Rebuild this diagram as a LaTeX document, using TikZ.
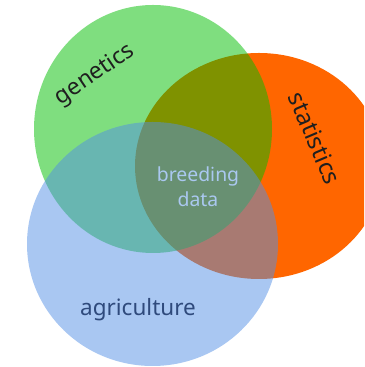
\documentclass[tikz,border=0pt]{standalone}
\usepackage{fontspec}
\setmainfont{Noto Sans}
\usetikzlibrary{positioning}
\definecolor{vorange}{HTML}{FF6600}
\definecolor{vgreen}{RGB}{0,190,0}
\definecolor{vblue}{RGB}{83,143,229}
\definecolor{agrtext}{HTML}{2F4A7C}
\definecolor{coretext}{HTML}{AAC8F0}

\begin{document}
\begin{tikzpicture}[
  x=0.025cm, y=0.025cm,
  blob/.style={draw=none},
  setlbl/.style={inner sep=0pt, text=black!88, font=\fontsize{16.4}{18}\selectfont},
  corelbl/.style={inner sep=0pt, align=center, text=coretext,
                  font=\fontsize{13.8}{17.8}\selectfont},
]
% ---- Frame ----
\useasboundingbox (0,0) rectangle (364,367);
\clip (0,0) rectangle (364,367);

% ---- Sets : statistics (opaque), genetics, agriculture (half transparent) ----
\fill[blob, vorange]                    (259,201) ellipse [x radius=124, y radius=113];
\fill[blob, vgreen, fill opacity=0.5]   (153,238) ellipse [x radius=119, y radius=124];
\fill[blob, vblue, fill opacity=0.5]    (152.5,123) ellipse [x radius=125.5, y radius=122];

% ---- Labels ----
\node[setlbl, rotate=34]  (gen)  at (95,292)  {genetics};
\node[setlbl, rotate=-67, font=\fontsize{17}{19}\selectfont] (stat) at (315,229) {statistics};
\node[setlbl, text=agrtext, font=\fontsize{16}{18}\selectfont] (agr) at (138,57) {agriculture};
\node[corelbl]            (core) at (198,180) {breeding\\data};
\end{tikzpicture}
\end{document}
